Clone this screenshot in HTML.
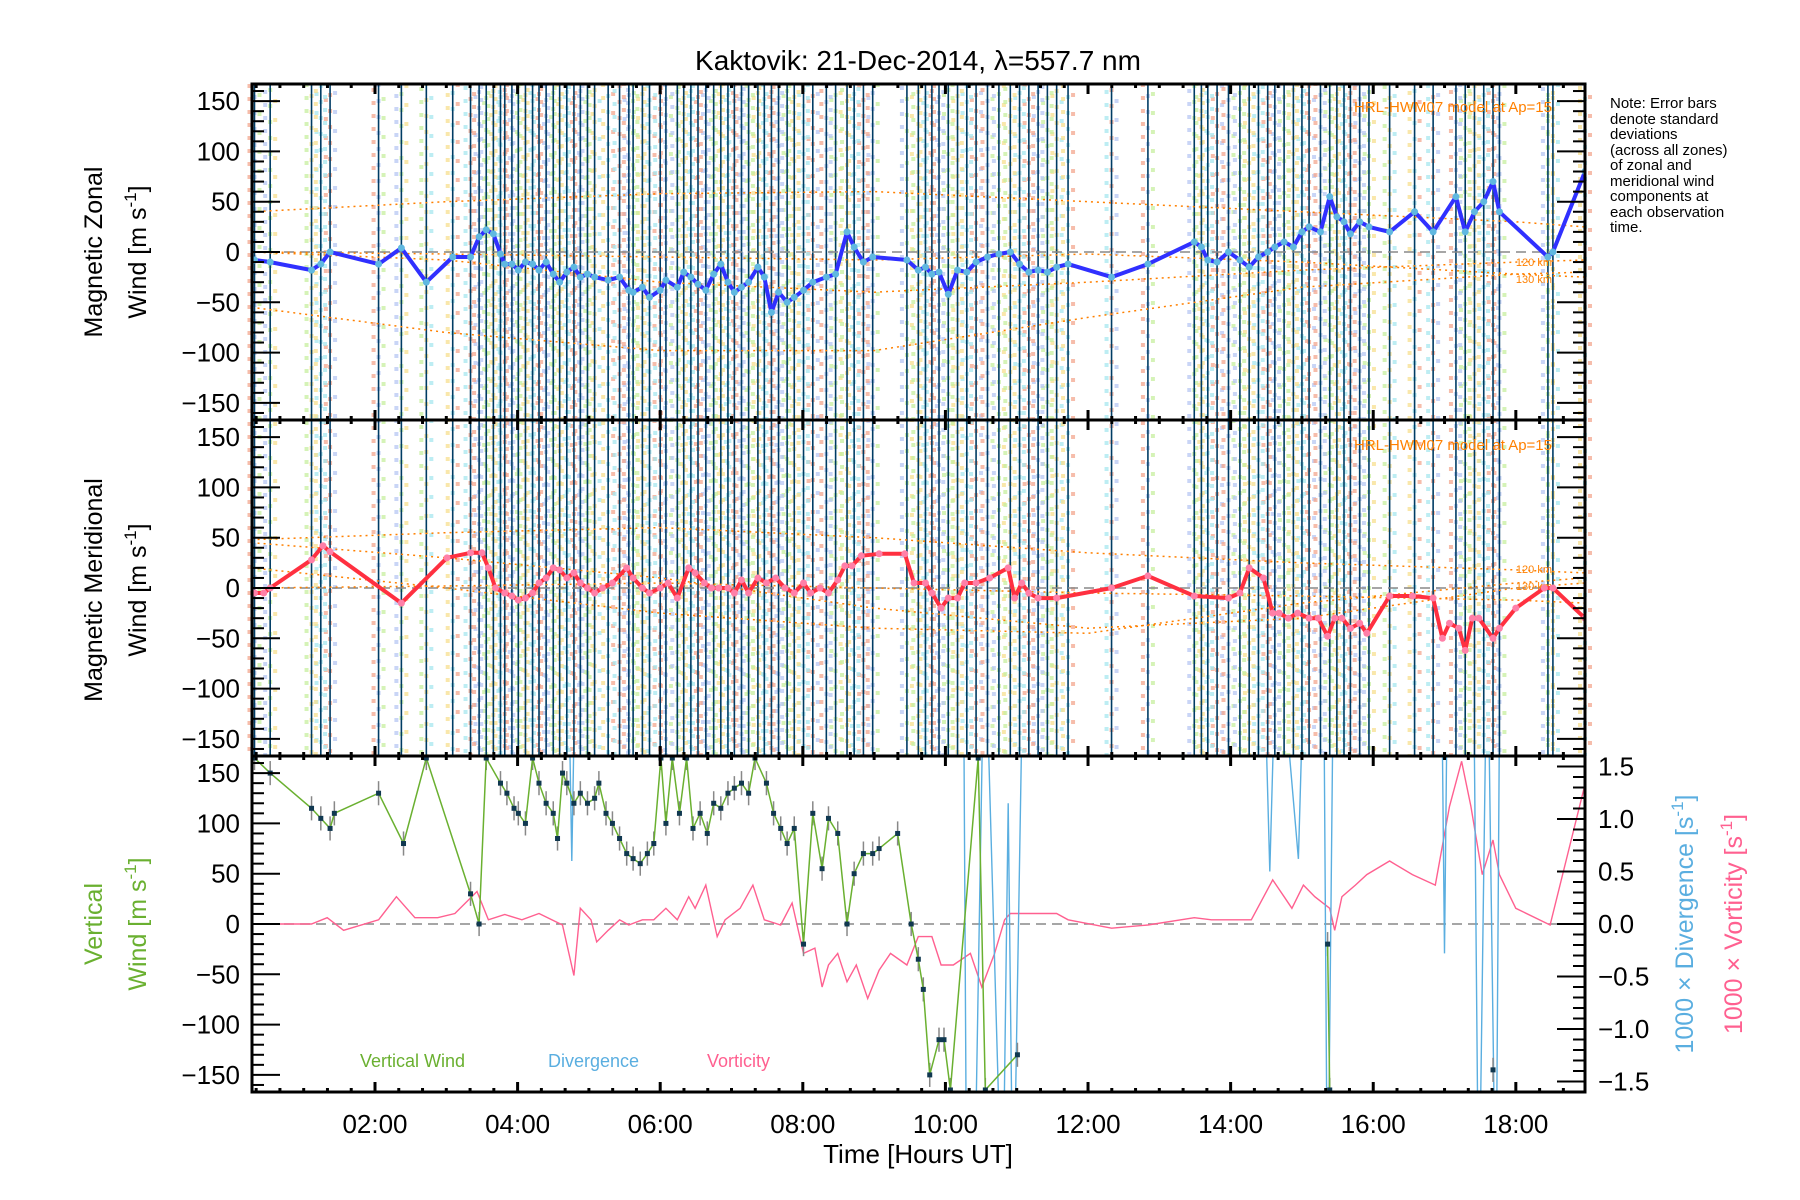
<!DOCTYPE html>
<html><head><meta charset="utf-8"><title>Kaktovik winds</title>
<style>
html,body{margin:0;padding:0;background:#fff;}
svg{display:block;font-family:"Liberation Sans",sans-serif;}
</style></head>
<body>
<svg id="chart" width="1800" height="1200" viewBox="0 0 1800 1200" xmlns="http://www.w3.org/2000/svg">
<text x="918" y="70" font-size="28" text-anchor="middle">Kaktovik: 21-Dec-2014, λ=557.7 nm</text>
<g font-size="15" fill="#000">
<text x="1610" y="108">Note: Error bars</text>
<text x="1610" y="124">denote standard</text>
<text x="1610" y="139">deviations</text>
<text x="1610" y="155">(across all zones)</text>
<text x="1610" y="170">of zonal and</text>
<text x="1610" y="186">meridional wind</text>
<text x="1610" y="201">components at</text>
<text x="1610" y="217">each observation</text>
<text x="1610" y="232">time.</text>
</g>
<g font-size="25" text-anchor="middle">
<text transform="translate(102,252) rotate(-90)">Magnetic Zonal</text>
<text transform="translate(146,252) rotate(-90)">Wind [m s<tspan font-size="17" dy="-10">-1</tspan><tspan dy="10">]</tspan></text>
</g>
<g font-size="25" text-anchor="middle">
<text transform="translate(102,590) rotate(-90)">Magnetic Meridional</text>
<text transform="translate(146,590) rotate(-90)">Wind [m s<tspan font-size="17" dy="-10">-1</tspan><tspan dy="10">]</tspan></text>
</g>
<g font-size="25" text-anchor="middle" fill="#6ab030">
<text transform="translate(102,924) rotate(-90)">Vertical</text>
<text transform="translate(146,924) rotate(-90)">Wind [m s<tspan font-size="17" dy="-10">-1</tspan><tspan dy="10">]</tspan></text>
</g>
<text transform="translate(1693,924) rotate(-90)" font-size="25" text-anchor="middle" fill="#5aaee0">1000 × Divergence [s<tspan font-size="17" dy="-10">-1</tspan><tspan dy="10">]</tspan></text>
<text transform="translate(1742,924) rotate(-90)" font-size="25" text-anchor="middle" fill="#ff6090">1000 × Vorticity [s<tspan font-size="17" dy="-10">-1</tspan><tspan dy="10">]</tspan></text>
<text x="918" y="1163" font-size="26" text-anchor="middle">Time [Hours UT]</text>
<g font-size="18">
<text x="360" y="1067" fill="#6ab030">Vertical Wind</text>
<text x="548" y="1067" fill="#5aaee0">Divergence</text>
<text x="707" y="1067" fill="#ff6090">Vorticity</text>
</g>
</svg>
<script>
// ---- data ----
var zonalTimes=[0.31,0.53,1.11,1.24,1.37,2.05,2.37,2.72,3.09,3.34,3.46,3.56,3.66,3.76,3.82,3.92,4.01,4.11,4.21,4.30,4.40,4.50,4.59,4.69,4.79,4.88,4.98,5.08,5.27,5.43,5.56,5.62,5.75,5.85,6.00,6.08,6.24,6.33,6.43,6.53,6.64,6.75,6.85,6.95,7.04,7.14,7.24,7.37,7.46,7.56,7.66,7.78,7.88,8.01,8.14,8.33,8.46,8.62,8.72,8.85,8.98,9.46,9.62,9.72,9.81,9.91,10.04,10.17,10.30,10.43,10.59,10.75,10.91,11.04,11.17,11.30,11.43,11.56,11.72,12.33,12.84,13.49,13.59,13.68,13.81,13.97,14.13,14.26,14.39,14.52,14.62,14.75,14.88,15.00,15.10,15.26,15.39,15.49,15.59,15.68,15.81,15.94,16.23,16.58,16.84,17.16,17.29,17.42,17.55,17.68,17.77,18.45,18.52,18.97];
var zonalValues=[-8,-10,-18,-12,0,-12,4,-30,-5,-5,15,22,18,-2,-12,-12,-18,-10,-12,-18,-10,-22,-30,-20,-15,-25,-22,-25,-28,-25,-38,-40,-35,-45,-38,-28,-35,-20,-25,-32,-38,-22,-12,-30,-40,-35,-30,-15,-25,-60,-40,-50,-45,-38,-30,-25,-22,20,5,-10,-5,-8,-18,-15,-22,-20,-42,-18,-20,-10,-5,-2,0,-12,-20,-18,-20,-15,-12,-25,-12,10,5,-8,-10,0,-8,-15,-5,0,5,10,5,20,25,20,55,35,30,18,30,25,20,40,20,55,20,40,50,70,40,-5,0,80];
var meridTimes=[0.31,0.44,0.53,1.11,1.27,1.37,2.37,3.01,3.34,3.50,3.59,3.69,3.82,3.92,4.01,4.11,4.21,4.30,4.40,4.50,4.59,4.69,4.79,4.88,4.98,5.08,5.19,5.33,5.53,5.62,5.75,5.85,6.00,6.11,6.24,6.40,6.49,6.62,6.72,6.82,6.95,7.04,7.14,7.24,7.37,7.49,7.62,7.75,7.88,8.01,8.11,8.24,8.36,8.49,8.59,8.69,8.82,9.07,9.43,9.56,9.72,9.81,9.94,10.04,10.17,10.27,10.43,10.62,10.88,10.97,11.07,11.17,11.30,11.56,12.33,12.84,13.49,13.97,14.13,14.26,14.46,14.59,14.68,14.81,14.94,15.10,15.23,15.36,15.46,15.56,15.68,15.81,15.91,16.23,16.55,16.84,16.97,17.07,17.20,17.29,17.39,17.48,17.68,17.77,18.00,18.40,18.52,18.97];
var meridValues=[-5,-5,0,28,42,36,-15,30,35,35,20,0,-5,-8,-12,-10,-5,5,10,20,18,10,15,5,0,-5,0,5,20,10,0,-5,0,5,-10,20,15,5,0,0,0,-5,8,-5,10,5,10,0,-5,5,-5,0,-5,8,22,22,32,34,34,5,5,-5,-20,-10,-10,5,5,10,20,-10,5,-5,-10,-10,0,12,-8,-10,-5,20,10,-25,-25,-30,-25,-30,-30,-48,-30,-30,-40,-35,-45,-8,-8,-10,-50,-35,-40,-62,-30,-30,-50,-40,-20,0,0,-30];
var vertTimes=[0.31,0.53,1.11,1.24,1.37,1.43,2.05,2.40,2.72,3.34,3.46,3.56,3.76,3.85,3.95,4.01,4.11,4.21,4.30,4.40,4.50,4.56,4.63,4.69,4.79,4.88,4.98,5.08,5.14,5.24,5.33,5.43,5.53,5.62,5.72,5.82,5.91,6.01,6.08,6.17,6.27,6.37,6.46,6.56,6.66,6.75,6.85,6.95,7.04,7.14,7.24,7.33,7.49,7.59,7.69,7.78,7.88,8.01,8.14,8.27,8.36,8.49,8.62,8.72,8.85,8.98,9.07,9.33,9.52,9.62,9.69,9.78,9.91,9.98,10.07,10.46,10.56,11.01,15.36,15.39,17.68];
var vertValues=[165,150,115,105,95,110,130,80,165,30,0,165,140,130,115,110,100,165,140,120,110,85,150,140,120,130,120,125,140,110,100,85,70,65,60,70,80,165,100,165,110,165,95,110,90,120,115,130,135,140,130,165,140,110,95,80,95,-20,110,55,105,90,0,50,70,70,75,90,0,-35,-65,-150,-115,-115,-165,165,-165,-130,-20,-165,-145];
var divTimes=[0.31,4.70,4.76,4.82,10.25,10.30,10.40,10.55,10.80,10.88,10.95,11.10,14.45,14.55,14.65,14.95,15.05,15.30,15.36,15.45,16.95,17.00,17.05,17.40,17.48,17.60,17.72,17.78,18.97];
var divValues=[3,3,0.6,3,3,-3,-3,3,-3,1.15,-3,3,3,0.5,3,0.62,3,3,-3,3,3,-0.28,3,3,-3,3,-3,3,3];
var vortTimes=[0.31,1.11,1.33,1.56,2.05,2.30,2.56,2.88,3.12,3.43,3.59,3.82,4.06,4.30,4.63,4.79,4.88,5.03,5.11,5.27,5.43,5.56,5.75,5.91,6.08,6.24,6.40,6.49,6.64,6.80,6.91,7.12,7.30,7.46,7.69,7.85,8.01,8.17,8.27,8.36,8.49,8.62,8.75,8.91,9.07,9.23,9.46,9.62,9.81,9.94,10.11,10.35,10.51,10.69,10.83,10.91,11.07,11.30,11.56,11.72,12.33,12.84,13.49,13.73,13.97,14.29,14.59,14.75,14.86,15.02,15.18,15.39,15.46,15.56,15.75,15.91,16.23,16.55,16.87,17.07,17.24,17.37,17.53,17.68,17.77,18.00,18.48,18.97];
var vortValues=[0,0,0.06,-0.06,0.04,0.26,0.06,0.06,0.1,0.31,0.04,0.09,0.04,0.1,-0.01,-0.49,0.15,0.04,-0.17,-0.06,0.04,-0.01,0.04,0.04,0.15,0.04,0.26,0.15,0.37,-0.12,0.04,0.15,0.37,0.04,-0.01,0.2,-0.28,-0.23,-0.6,-0.39,-0.28,-0.55,-0.39,-0.71,-0.44,-0.28,-0.39,-0.12,-0.12,-0.39,-0.39,-0.28,-0.6,-0.28,0.04,0.1,0.1,0.1,0.1,0.04,-0.04,-0.01,0.06,0.04,0.04,0.04,0.42,0.26,0.15,0.37,0.26,0.15,-0.06,0.26,0.37,0.47,0.6,0.47,0.37,1.12,1.55,1.12,0.47,0.8,0.47,0.15,-0.01,1.33];
// HWM07 model curves
var modelHours=[0.27,3,6,9,12,15,18,18.97];
var zonalModelA=[40,50,58,60,50,40,30,25];
var zonalModelB=[-55,-80,-98,-98,-65,-35,-22,-20];
var zonalModelC=[0,-8,-30,-40,-30,-18,-10,-8];
var zonalModelD=[0,-2,-5,-8,-2,-10,-22,-25];
var meridModelA=[48,55,60,50,35,25,18,15];
var meridModelB=[45,30,10,-20,-40,-30,0,5];
var meridModelC=[20,0,-25,-40,-45,-15,5,10];
var meridModelD=[0,2,5,0,-5,-8,-12,-15];
var yTicks=[-150,-100,-50,0,50,100,150];
var rightTicks=[-1.5,-1.0,-0.5,0.0,0.5,1.0,1.5];
var xTickHours=[2,4,6,8,10,12,14,16,18];
var xTickLabels=["02:00","04:00","06:00","08:00","10:00","12:00","14:00","16:00","18:00"];

// ---- geometry ----
var X0=252,X1=1585,H0=0.275,H1=18.97;
var panels=[{t:84,b:420},{t:420,b:756},{t:756,b:1092}];
var NS="http://www.w3.org/2000/svg";
var svg=document.getElementById('chart');
function xs(h){return X0+(h-H0)/(H1-H0)*(X1-X0);}
function ysFor(p,lim){return function(v){var m=(p.t+p.b)/2;return m-v/lim*(p.b-p.t)/2;};}
function mk(tag,attrs,parent){var e=document.createElementNS(NS,tag);for(var k in attrs)e.setAttribute(k,attrs[k]);(parent||svg).appendChild(e);return e;}
var defs=mk('defs',{});
panels.forEach(function(p,i){var c=mk('clipPath',{id:'clip'+i},defs);mk('rect',{x:X0,y:p.t,width:X1-X0,height:p.b-p.t},c);});

var yZ=ysFor(panels[0],167),yM=ysFor(panels[1],167),yV=ysFor(panels[2],167),yR=ysFor(panels[2],1.6);

var pastel=['#f4a890','#b8c8f4','#c8f0a0','#f8e090','#a8e8f0'];
zonalTimes.forEach(function(t,i){
  var x=xs(t);
  for(var k=0;k<3;k++){
    var d=mk('line',{x1:x+(k-1)*5,x2:x+(k-1)*5,y1:84,y2:756,stroke:pastel[(i+k)%5],'stroke-width':4,'stroke-dasharray':'4 '+(9+k*3),'stroke-dashoffset':(i*7+k*5)%13,opacity:0.75},svg);
    
    
  }
});
zonalTimes.forEach(function(t){
  var x=xs(t);
  var l=mk('line',{x1:x,x2:x,y1:84,y2:756,stroke:'#003c64','stroke-width':1.6},svg);
  
  
});

function poly(times,vals,yf,attrs,clip,name,gap){
  var segs=[[]];
  times.forEach(function(t,i){
    if(gap&&i>0&&t-times[i-1]>gap)segs.push([]);
    segs[segs.length-1].push(xs(t).toFixed(1)+','+yf(vals[i]).toFixed(1));
  });
  segs.forEach(function(s){
    var a={};for(var k in attrs)a[k]=attrs[k];
    a.points=s.join(' ');a.fill='none';a['clip-path']='url(#clip'+clip+')';
    var e=mk('polyline',a);
    
    
  });
}
function dots(times,vals,yf,color,r,clip,name){
  var g=mk('g',{'clip-path':'url(#clip'+clip+')'});
  
  
  times.forEach(function(t,i){var c=mk('circle',{cx:xs(t),cy:yf(vals[i]),r:r,fill:color},g);
    
    });
}
[yZ,yM,yV].forEach(function(f,i){var l=mk('line',{x1:X0,x2:X1,y1:f(0),y2:f(0),stroke:'#888','stroke-width':1.5,'stroke-dasharray':'10 6'});
  
  });
[[zonalModelA,yZ,0],[zonalModelB,yZ,0],[zonalModelC,yZ,0],[zonalModelD,yZ,0],[meridModelA,yM,1],[meridModelB,yM,1],[meridModelC,yM,1],[meridModelD,yM,1]].forEach(function(m){
  poly(modelHours,m[0],m[1],{stroke:'#ff8000','stroke-width':1.5,'stroke-dasharray':'2 4'},m[2],'hwm07-model-curve');
});
[[112,'HRL-HWM07 model at Ap=15'],[450,'HRL-HWM07 model at Ap=15']].forEach(function(a){
  var t=mk('text',{x:1552,y:a[0],'font-size':15,fill:'#ff8000','text-anchor':'end'});t.textContent=a[1];
  
  
});
[[266,'120 km'],[283,'130 km'],[573,'120 km'],[590,'130 km']].forEach(function(a){
  var t=mk('text',{x:1552,y:a[0],'font-size':11,fill:'#ff8000','text-anchor':'end'});t.textContent=a[1];
  
  
});
poly(zonalTimes,zonalValues,yZ,{stroke:'#3030ff','stroke-width':4,'stroke-linejoin':'round'},0,'zonal-wind-line');
dots(zonalTimes,zonalValues,yZ,'#60b8e0',3.5,0,'zonal-wind-points');
poly(meridTimes,meridValues,yM,{stroke:'#ff3040','stroke-width':4,'stroke-linejoin':'round'},1,'meridional-wind-line');
dots(meridTimes,meridValues,yM,'#ff80a8',3.5,1,'meridional-wind-points');
poly(vortTimes,vortValues,yR,{stroke:'#ff6090','stroke-width':1.4},2,'vorticity-line');
poly(divTimes,divValues,yR,{stroke:'#5aaee0','stroke-width':1.4},2,'divergence-line');
var eb=mk('g',{'clip-path':'url(#clip2)'});


vertTimes.forEach(function(t,i){var x=xs(t);var e=mk('line',{x1:x,x2:x,y1:yV(vertValues[i]+12),y2:yV(vertValues[i]-12),stroke:'#888','stroke-width':1.5},eb);
  
  });
poly(vertTimes,vertValues,yV,{stroke:'#6ab030','stroke-width':1.5},2,'vertical-wind-line',1.5);
var vp=mk('g',{'clip-path':'url(#clip2)'});


vertTimes.forEach(function(t,i){var r=mk('rect',{x:xs(t)-2.5,y:yV(vertValues[i])-2.5,width:5,height:5,fill:'#103850'},vp);
  
  });

var ax=mk('g',{stroke:'#000'});


panels.forEach(function(p,pi){
  mk('rect',{x:X0,y:p.t,width:X1-X0,height:p.b-p.t,fill:'none','stroke-width':3},ax);
  var f=ysFor(p,167);
  for(var v=-160;v<=160;v+=10){
    var L=(v%50===0)?28:12;var y=f(v);
    mk('line',{x1:X0,x2:X0+L,y1:y,y2:y,'stroke-width':2},ax);
    if(pi<2)mk('line',{x1:X1,x2:X1-L,y1:y,y2:y,'stroke-width':2},ax);
  }
  if(pi===2){for(var r=-15;r<=15;r++){var yy=yR(r/10);var L2=(r%5===0)?28:12;mk('line',{x1:X1,x2:X1-L2,y1:yy,y2:yy,'stroke-width':2},ax);}}
  for(var h=0;h<=19;h+=1/3){if(h<H0||h>H1)continue;var x=xs(h);var maj=Math.abs(h/2-Math.round(h/2))<0.01;var L3=maj?10:4;
    mk('line',{x1:x,x2:x,y1:p.b,y2:p.b-L3,'stroke-width':3},ax);
    mk('line',{x1:x,x2:x,y1:p.t,y2:p.t+L3,'stroke-width':3},ax);}
  yTicks.forEach(function(v){var t=mk('text',{x:240,y:f(v)+9,'font-size':26,'text-anchor':'end',fill:'#000'},svg);
    t.textContent=(v<0?'\u2212':'')+Math.abs(v);
    
    });
});
rightTicks.forEach(function(v){var t=mk('text',{x:1598,y:yR(v)+9,'font-size':26,fill:'#000'});
  t.textContent=(v<0?'\u2212':'')+Math.abs(v).toFixed(1);
  
  });
xTickHours.forEach(function(h,i){var t=mk('text',{x:xs(h),y:1133,'font-size':26,'text-anchor':'middle',fill:'#000'});
  t.textContent=xTickLabels[i];
  
  });
</script>
</body></html>
